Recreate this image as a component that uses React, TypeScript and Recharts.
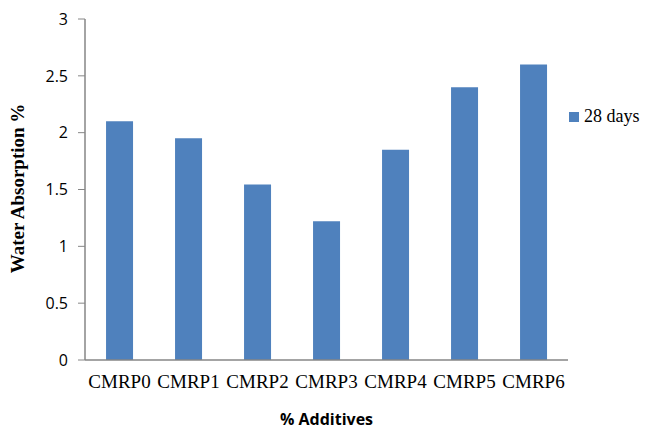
import React from 'react';
import {
  BarChart,
  Bar,
  XAxis,
  YAxis,
  Legend,
} from 'recharts';

// Water absorption after curing, per additive mix
const categories = ['CMRP0', 'CMRP1', 'CMRP2', 'CMRP3', 'CMRP4', 'CMRP5', 'CMRP6'];
const days28 = [2.1, 1.95, 1.545, 1.22, 1.85, 2.4, 2.6];
const yTicks = [0, 0.5, 1, 1.5, 2, 2.5, 3];

const data = categories.map((name, i) => ({ name, days28: days28[i] }));

const BAR_COLOR = '#4F81BD';
const AXIS_COLOR = '#868686';
const SERIF = "'Liberation Serif', 'Times New Roman', serif";

const YTitle = ({ viewBox }: any) => {
  const x = viewBox.x + 17;
  const y = viewBox.y + viewBox.height / 2 - 1;
  return (
    <text
      x={x}
      y={y}
      transform={`rotate(-90, ${x}, ${y})`}
      textAnchor="middle"
      dominantBaseline="central"
      fontFamily={SERIF}
      fontWeight="bold"
      fontSize={19}
      fill="#000"
    >
      Water Absorption %
    </text>
  );
};

const XTitle = ({ viewBox }: any) => (
  <text
    x={viewBox.x + viewBox.width / 2}
    y={viewBox.y + 59}
    textAnchor="middle"
    dominantBaseline="central"
    fontFamily="'Open Sans', sans-serif"
    fontWeight="bold"
    fontSize={16}
    fill="#000"
  >
    % Additives
  </text>
);

const LegendBox = () => (
  <div style={{ display: 'flex', alignItems: 'center' }}>
    <span
      style={{
        display: 'inline-block',
        width: 10,
        height: 10,
        marginLeft: 1,
        background: BAR_COLOR,
      }}
    />
    <span
      style={{
        marginLeft: 5,
        fontFamily: SERIF,
        fontSize: 18,
        color: '#000',
        whiteSpace: 'nowrap',
      }}
    >
      28 days
    </span>
  </div>
);

export default function App() {
  return (
    <div style={{ position: 'absolute', left: 0, top: 0, background: '#fff' }}>
      <BarChart
        width={646}
        height={430}
        data={data}
        margin={{ top: 19, right: 0, bottom: 0, left: 0 }}
        barCategoryGap="30.5%"
      >
        <XAxis
          dataKey="name"
          height={70}
          tickLine={false}
          axisLine={{ stroke: AXIS_COLOR, strokeWidth: 1.5 }}
          tickMargin={9}
          tick={{ fill: '#000', fontSize: 19, fontFamily: SERIF }}
          interval={0}
          label={<XTitle />}
        />
        <YAxis
          width={85}
          domain={[0, 3]}
          ticks={yTicks}
          tickSize={7}
          tickMargin={10}
          tickLine={{ stroke: AXIS_COLOR }}
          axisLine={{ stroke: AXIS_COLOR, strokeWidth: 1.5 }}
          tick={{ fill: '#000', fontSize: 16, fontFamily: "'Open Sans', sans-serif" }}
          label={<YTitle />}
        />
        <Legend
          layout="vertical"
          align="right"
          verticalAlign="top"
          width={78}
          content={<LegendBox />}
          wrapperStyle={{ top: 106 }}
        />
        <Bar dataKey="days28" name="28 days" fill={BAR_COLOR} isAnimationActive={false} />
      </BarChart>
    </div>
  );
}
